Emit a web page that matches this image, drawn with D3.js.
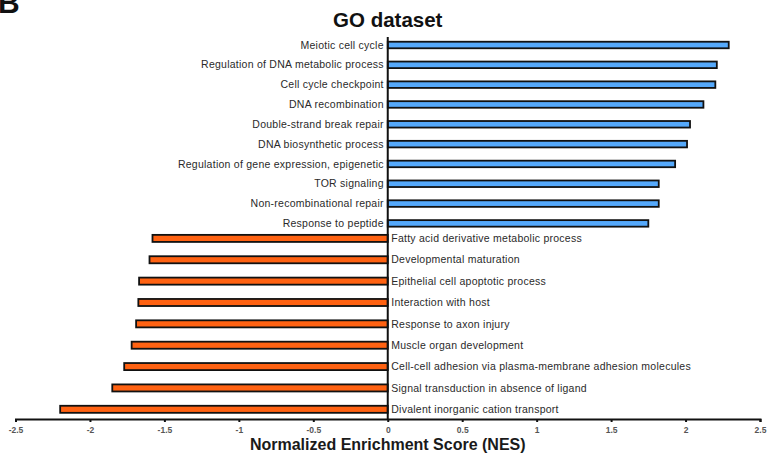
<!DOCTYPE html>
<html>
<head>
<meta charset="utf-8">
<script src="https://cdn.jsdelivr.net/npm/d3@7/dist/d3.min.js"></script>
<style>
  html, body { margin: 0; padding: 0; background: #fff; }
  svg { display: block; font-family: "Liberation Sans", Arial, sans-serif; }
</style>
</head>
<body>
<svg id="chart" width="768" height="454"></svg>
<script>
// GO terms enriched in the positive direction (top block)
const upTerms = [
  "Meiotic cell cycle",
  "Regulation of DNA metabolic process",
  "Cell cycle checkpoint",
  "DNA recombination",
  "Double-strand break repair",
  "DNA biosynthetic process",
  "Regulation of gene expression, epigenetic",
  "TOR signaling",
  "Non-recombinational repair",
  "Response to peptide"
];
const upNES = [2.29, 2.21, 2.20, 2.12, 2.03, 2.01, 1.93, 1.82, 1.82, 1.75];

// GO terms enriched in the negative direction (bottom block)
const downTerms = [
  "Fatty acid derivative metabolic process",
  "Developmental maturation",
  "Epithelial cell apoptotic process",
  "Interaction with host",
  "Response to axon injury",
  "Muscle organ development",
  "Cell-cell adhesion via plasma-membrane adhesion molecules",
  "Signal transduction in absence of ligand",
  "Divalent inorganic cation transport"
];
const downNES = [-1.58, -1.60, -1.67, -1.675, -1.69, -1.72, -1.77, -1.85, -2.20];

const xTicks = [-2.5, -2, -1.5, -1, -0.5, 0, 0.5, 1, 1.5, 2, 2.5];

const svg = d3.select("#chart");

const x = d3.scaleLinear().domain([-2.5, 2.5]).range([15.5, 760]);
const axisY = 419;

// separate row scales for the two blocks (centres of rows)
const yUp = d3.scalePoint().domain(upTerms).range([45, 223.4]);
const yDown = d3.scalePoint().domain(downTerms).range([238.4, 409.3]);

const blue = "#55a9fb", orange = "#ff6212";

function drawBars(terms, values, y, color, thickness) {
  const data = terms.map((t, i) => ({ term: t, v: values[i] }));
  svg.append("g").selectAll("rect").data(data).join("rect")
    .attr("x", d => Math.min(x(0), x(d.v)))
    .attr("width", d => Math.abs(x(d.v) - x(0)))
    .attr("y", d => y(d.term) - thickness / 2)
    .attr("height", thickness)
    .attr("fill", color)
    .attr("stroke", "#111")
    .attr("stroke-width", 1.8);
}
drawBars(upTerms, upNES, yUp, blue, yUp.step() * 0.33);
drawBars(downTerms, downNES, yDown, orange, yDown.step() * 0.33);

// category labels: left of the zero line for positive terms, right of it for negative
svg.append("g").selectAll("text").data(upTerms).join("text")
  .attr("x", x(0) - 4)
  .attr("y", d => yUp(d))
  .attr("dy", "0.35em")
  .attr("text-anchor", "end")
  .attr("font-size", 10.5)
  .attr("letter-spacing", 0.25)
  .attr("fill", "#2a2a2a")
  .text(d => d);

svg.append("g").selectAll("text").data(downTerms).join("text")
  .attr("x", x(0) + 3.5)
  .attr("y", d => yDown(d))
  .attr("dy", "0.35em")
  .attr("text-anchor", "start")
  .attr("font-size", 10.5)
  .attr("letter-spacing", 0.25)
  .attr("fill", "#2a2a2a")
  .text(d => d);

// zero line
svg.append("line")
  .attr("x1", x(0)).attr("x2", x(0))
  .attr("y1", 37).attr("y2", axisY)
  .attr("stroke", "#111").attr("stroke-width", 2);

// x axis
const xAxis = d3.axisBottom(x)
  .tickValues(xTicks)
  .tickSize(3)
  .tickPadding(5)
  .tickFormat(d => String(d));
const gx = svg.append("g").attr("transform", `translate(0,${axisY})`).call(xAxis);
gx.select(".domain").attr("stroke", "#111").attr("stroke-width", 2);
gx.selectAll(".tick line").attr("stroke", "#111").attr("stroke-width", 2);
gx.selectAll(".tick text")
  .attr("font-family", "'Liberation Sans', Arial, sans-serif")
  .attr("font-size", 8.5)
  .attr("font-weight", "bold")
  .attr("fill", "#555");

// axis title
svg.append("text")
  .attr("x", x(0)).attr("y", 450)
  .attr("text-anchor", "middle")
  .attr("font-size", 16)
  .attr("font-weight", "bold")
  .attr("fill", "#1a1a1a")
  .text("Normalized Enrichment Score (NES)");

// chart title
svg.append("text")
  .attr("x", x(0)).attr("y", 26.5)
  .attr("text-anchor", "middle")
  .attr("font-size", 20.5)
  .attr("font-weight", "bold")
  .attr("fill", "#111")
  .text("GO dataset");

// panel letter, partly above the top edge
svg.append("text")
  .attr("x", -2).attr("y", 13)
  .attr("font-size", 30)
  .attr("font-weight", "bold")
  .attr("fill", "#111")
  .text("B");
</script>
</body>
</html>
